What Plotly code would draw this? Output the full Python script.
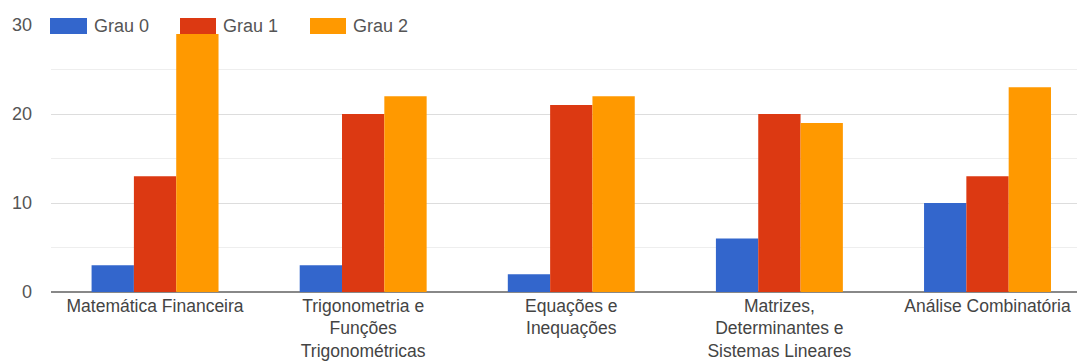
import plotly.graph_objects as go

categories = [
    "Matemática Financeira",
    "Trigonometria e<br>Funções<br>Trigonométricas",
    "Equações e<br>Inequações",
    "Matrizes,<br>Determinantes e<br>Sistemas Lineares",
    "Análise Combinatória",
]
series_names = ["Grau 0", "Grau 1", "Grau 2"]
grau0 = [3, 3, 2, 6, 10]
grau1 = [13, 20, 21, 20, 13]
grau2 = [29, 22, 22, 19, 23]
colors = ["#3366cc", "#dc3912", "#ff9900"]
y_ticks = [0, 10, 20, 30]

W, H = 1077, 363
ML, MR, MT, MB = 51, 0, 25, 71
FONT = "Liberation Sans, Arial, sans-serif"
FS = 18

fig = go.Figure()
xs = list(range(len(categories)))
for name, vals, col in zip(series_names, [grau0, grau1, grau2], colors):
    fig.add_trace(go.Bar(x=xs, y=vals, name=name, marker=dict(color=col, line=dict(width=0)),
                         showlegend=False))

# custom legend (boxes + text), positioned in pixels
def px_x(p):
    return (p - ML) / (W - ML - MR)

def px_y(p):
    return 1 - (p - MT) / (H - MT - MB)

leg_boxes = [(50, 87), (180, 216), (310, 346)]
for (x0, x1), name, col in zip(leg_boxes, series_names, colors):
    fig.add_shape(type="rect", xref="paper", yref="paper",
                  x0=px_x(x0), x1=px_x(x1), y0=px_y(34), y1=px_y(18),
                  fillcolor=col, line=dict(width=0), layer="above")
    fig.add_annotation(xref="paper", yref="paper", x=px_x(x1 + 5), y=px_y(26),
                       text=name, showarrow=False, xanchor="left", yanchor="middle",
                       font=dict(family=FONT, size=FS, color="#555555"),
                       bgcolor="white", borderpad=1)

fig.update_layout(
    width=W, height=H,
    margin=dict(l=ML, r=MR, t=MT, b=MB),
    paper_bgcolor="white", plot_bgcolor="white",
    barmode="group", bargap=0.39, bargroupgap=0.0,
    font=dict(family=FONT, size=FS, color="#444444"),
    xaxis=dict(
        range=[-0.5, 4.43], tickmode="array", tickvals=xs, ticktext=categories,
        showgrid=False, zeroline=False, showline=False, ticks="",
        ticklabelstandoff=1, automargin=False,
        tickfont=dict(family=FONT, size=17.5, color="#444444"),
    ),
    yaxis=dict(
        range=[0, 30], tickmode="array", tickvals=y_ticks,
        showgrid=True, gridcolor="#dddddd", gridwidth=1,
        minor=dict(dtick=5, showgrid=True, gridcolor="#eeeeee", gridwidth=1),
        zeroline=True, zerolinecolor="#888888", zerolinewidth=2,
        showline=False, ticks="", ticklabelstandoff=18, automargin=False,
        tickfont=dict(family=FONT, size=FS, color="#555555"),
    ),
)

fig.write_html("out.html")
